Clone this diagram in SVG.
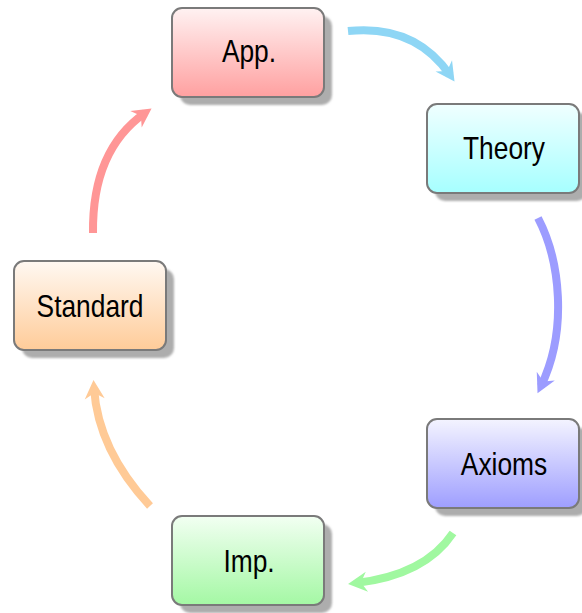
<svg xmlns="http://www.w3.org/2000/svg" width="582" height="613" viewBox="0 0 582 613">
<style>
.box{stroke:#7a7a7a;stroke-width:2}
.shadow{fill:#adadad;filter:url(#blur)}
.lbl{font-family:"Liberation Sans",Arial,sans-serif;font-size:31px;fill:#000;text-anchor:middle}
.arr{fill:none;stroke-width:8;stroke-linecap:butt}
</style>
<defs>
<filter id="blur" x="-10%" y="-10%" width="120%" height="120%"><feGaussianBlur stdDeviation="1.2"/></filter>
<linearGradient id="gApp" x1="0" y1="0" x2="0" y2="1"><stop offset="0" stop-color="#fff2f2"/><stop offset="1" stop-color="#ffa0a0"/></linearGradient>
<linearGradient id="gThe" x1="0" y1="0" x2="0" y2="1"><stop offset="0" stop-color="#f0ffff"/><stop offset="1" stop-color="#a6ffff"/></linearGradient>
<linearGradient id="gAxi" x1="0" y1="0" x2="0" y2="1"><stop offset="0" stop-color="#f4f4ff"/><stop offset="1" stop-color="#9e9eff"/></linearGradient>
<linearGradient id="gImp" x1="0" y1="0" x2="0" y2="1"><stop offset="0" stop-color="#f2fff2"/><stop offset="1" stop-color="#a4f8a4"/></linearGradient>
<linearGradient id="gSta" x1="0" y1="0" x2="0" y2="1"><stop offset="0" stop-color="#fff8f2"/><stop offset="1" stop-color="#ffcc99"/></linearGradient>
<marker id="mBlue" markerUnits="userSpaceOnUse" markerWidth="24" markerHeight="24" viewBox="-20 -12 22 24" refX="-8" refY="0" orient="auto"><path d="M0,0 L-19,-10 L-13,0 L-19,10 Z" fill="#8ed6f5"/></marker>
<marker id="mPur" markerUnits="userSpaceOnUse" markerWidth="24" markerHeight="24" viewBox="-20 -12 22 24" refX="-8" refY="0" orient="auto"><path d="M0,0 L-19,-10 L-13,0 L-19,10 Z" fill="#9c9cff"/></marker>
<marker id="mGrn" markerUnits="userSpaceOnUse" markerWidth="24" markerHeight="24" viewBox="-20 -12 22 24" refX="-8" refY="0" orient="auto"><path d="M0,0 L-19,-10 L-13,0 L-19,10 Z" fill="#a0f8a0"/></marker>
<marker id="mOra" markerUnits="userSpaceOnUse" markerWidth="24" markerHeight="24" viewBox="-20 -12 22 24" refX="-8" refY="0" orient="auto"><path d="M0,0 L-19,-10 L-13,0 L-19,10 Z" fill="#ffca96"/></marker>
<marker id="mRed" markerUnits="userSpaceOnUse" markerWidth="24" markerHeight="24" viewBox="-20 -12 22 24" refX="-8" refY="0" orient="auto"><path d="M0,0 L-19,-10 L-13,0 L-19,10 Z" fill="#ff9696"/></marker>
</defs>
<g id="connectors">
<path class="arr" stroke="#8ed6f5" marker-end="url(#mBlue)" d="M348,31 Q415,24 450,75"/>
<path class="arr" stroke="#9c9cff" marker-end="url(#mPur)" d="M538,218 C560,260 568,330 541,386"/>
<path class="arr" stroke="#a0f8a0" marker-end="url(#mGrn)" d="M453,533 Q425,575 356,583"/>
<path class="arr" stroke="#ffca96" marker-end="url(#mOra)" d="M150,506 Q98,450 94,388"/>
<path class="arr" stroke="#ff9696" marker-end="url(#mRed)" d="M93,233 Q92,150 145,113"/>
</g>
<g id="app">
<rect class="shadow" x="180" y="16" width="152" height="89" rx="10"/>
<rect class="box" x="172" y="8" width="152" height="89" rx="10" fill="url(#gApp)"/>
<text class="lbl" transform="translate(249,62) scale(0.85,1)">App.</text>
</g>
<g id="theory">
<rect class="shadow" x="435" y="112" width="152" height="89" rx="10"/>
<rect class="box" x="427" y="104" width="152" height="89" rx="10" fill="url(#gThe)"/>
<text class="lbl" transform="translate(504,159) scale(0.85,1)">Theory</text>
</g>
<g id="axioms">
<rect class="shadow" x="435" y="427" width="152" height="89" rx="10"/>
<rect class="box" x="427" y="419" width="152" height="89" rx="10" fill="url(#gAxi)"/>
<text class="lbl" transform="translate(504,475) scale(0.85,1)">Axioms</text>
</g>
<g id="imp">
<rect class="shadow" x="180" y="524" width="152" height="89" rx="10"/>
<rect class="box" x="172" y="516" width="152" height="89" rx="10" fill="url(#gImp)"/>
<text class="lbl" transform="translate(249,572) scale(0.85,1)">Imp.</text>
</g>
<g id="standard">
<rect class="shadow" x="22" y="269" width="152" height="89" rx="10"/>
<rect class="box" x="14" y="261" width="152" height="89" rx="10" fill="url(#gSta)"/>
<text class="lbl" transform="translate(90,317) scale(0.85,1)">Standard</text>
</g>
</svg>
